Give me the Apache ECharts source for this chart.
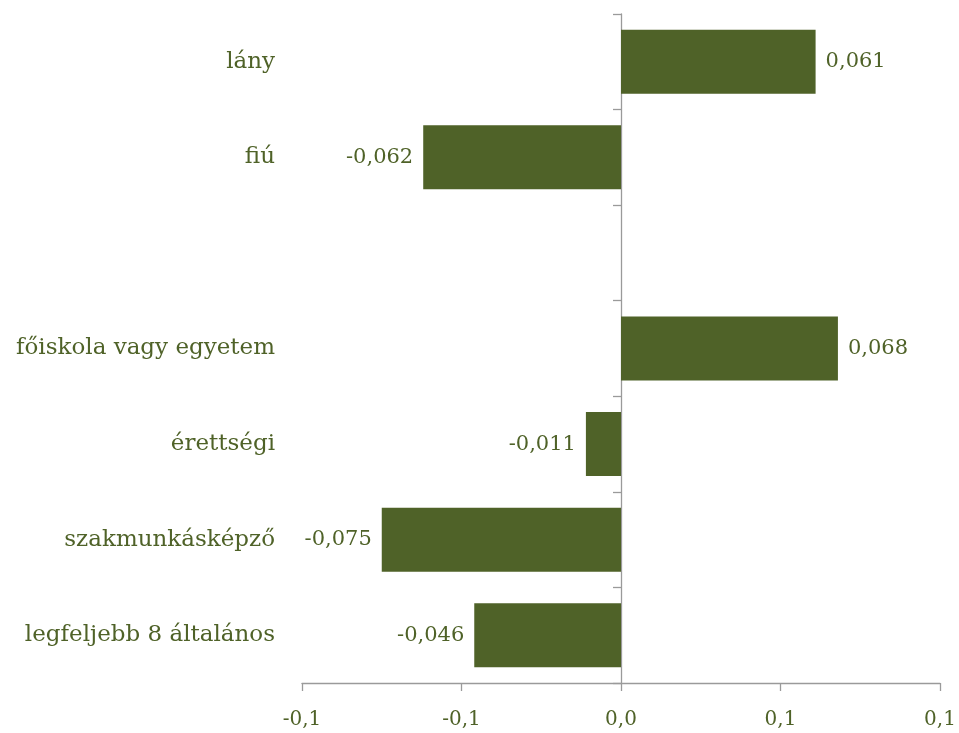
<!DOCTYPE html>
<html lang="hu">

<head>
    <meta charset="UTF-8">
    <title>chart</title>
    <script src="https://cdn.jsdelivr.net/npm/echarts/dist/echarts.min.js"></script>
    <style>
        html, body {
            margin: 0;
            height: 100%;
            background: #fff;
        }

        #main {
            width: 959px;
            height: 733px;
        }
    </style>
</head>

<body>
    <div id="main"></div>
    <script>
        // data (empty row = gap between the two groups)
        var categories = ['lány', 'fiú', '', 'főiskola vagy egyetem', 'érettségi', 'szakmunkásképző', 'legfeljebb 8 általános'];
        var values = [0.061, -0.062, null, 0.068, -0.011, -0.075, -0.046];
        var valueLabels = ['0,061', '-0,062', '', '0,068', '-0,011', '-0,075', '-0,046'];
        var xTicks = [-0.1, -0.05, 0, 0.05, 0.1];
        var xTickLabels = ['-0,1', '-0,1', '0,0', '0,1', '0,1'];

        var green = '#4f6228';
        var axisGray = '#9a9a9a';
        var font = 'DejaVu Serif';

        var chart = echarts.init(document.getElementById('main'));

        var barData = values.map(function (v, i) {
            if (v === null) return '-';
            return {
                value: v,
                label: {
                    show: true,
                    position: v < 0 ? 'left' : 'right',
                    formatter: valueLabels[i]
                }
            };
        });

        chart.setOption({
            animation: false,
            grid: { left: 302, right: 19, top: 14, bottom: 50, containLabel: false },
            xAxis: {
                type: 'value',
                min: -0.1,
                max: 0.1,
                interval: 0.05,
                splitLine: { show: false },
                axisLine: { show: true, onZero: false, lineStyle: { color: axisGray, width: 1.3 } },
                axisTick: { show: true, length: 8, lineStyle: { color: axisGray, width: 1.3 } },
                axisLabel: {
                    margin: 27,
                    color: green,
                    fontFamily: font,
                    fontSize: 20,
                    formatter: function (val) {
                        for (var i = 0; i < xTicks.length; i++) {
                            if (Math.abs(xTicks[i] - val) < 1e-9) return xTickLabels[i];
                        }
                        return '';
                    }
                }
            },
            yAxis: [{
                type: 'category',
                data: categories,
                inverse: true,
                axisLine: { show: true, onZero: true, lineStyle: { color: axisGray, width: 1.3 } },
                axisTick: { show: true, length: 8, lineStyle: { color: axisGray, width: 1.3 } },
                axisLabel: { show: false }
            }, {
                type: 'category',
                data: categories,
                inverse: true,
                position: 'left',
                axisLine: { show: false, onZero: false },
                axisTick: { show: false },
                axisLabel: {
                    margin: 27,
                    color: green,
                    fontFamily: font,
                    fontSize: 23
                }
            }],
            series: [{
                type: 'bar',
                yAxisIndex: 0,
                data: barData,
                barWidth: '67%',
                itemStyle: { color: green },
                label: {
                    distance: 10,
                    color: green,
                    fontFamily: font,
                    fontSize: 21
                }
            }]
        });
    </script>
</body>

</html>
